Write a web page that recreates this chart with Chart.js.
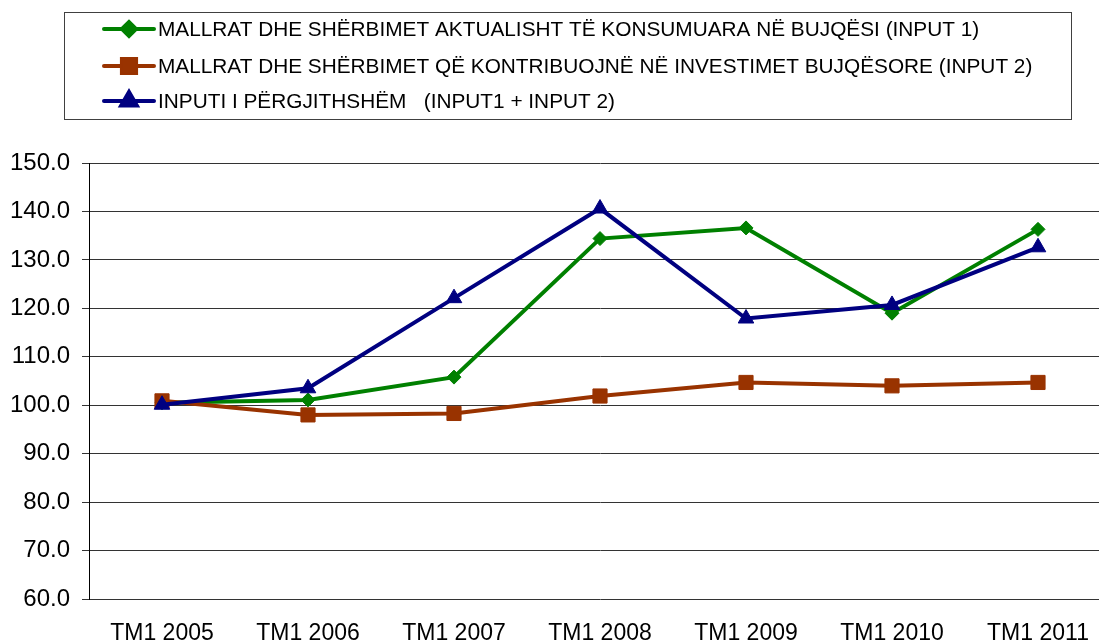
<!DOCTYPE html>
<html>
<head>
<meta charset="utf-8">
<script src="https://cdn.jsdelivr.net/npm/chart.js@4/dist/chart.umd.min.js"></script>
<style>
  html, body { margin: 0; padding: 0; background: #fff; overflow: hidden; }
  #wrap { width: 1099px; height: 641px; overflow: hidden; }
  #grafico { display: block; }
</style>
</head>
<body>
<div id="wrap"><canvas id="grafico" width="1122" height="641"></canvas></div>
<script>
// Dados
const categorias = ['TM1 2005', 'TM1 2006', 'TM1 2007', 'TM1 2008', 'TM1 2009', 'TM1 2010', 'TM1 2011'];
const input1 = [100.5, 101.1, 105.8, 134.4, 136.6, 119.0, 136.3];
const input2 = [100.9, 98.0, 98.3, 101.9, 104.7, 104.0, 104.7];
const inputTotal = [100.1, 103.5, 122.1, 140.6, 117.9, 120.7, 132.6];

const nomes = [
  'MALLRAT DHE SHËRBIMET AKTUALISHT TË KONSUMUARA NË BUJQËSI (INPUT 1)',
  'MALLRAT DHE SHËRBIMET QË KONTRIBUOJNË NË INVESTIMET BUJQËSORE (INPUT 2)',
  'INPUTI I PËRGJITHSHËM   (INPUT1 + INPUT 2)',
];

const FONTE = '"Liberation Sans", Arial, sans-serif';

// legenda desenhada à mão: caixa com linha + marcador
const legendaCaixa = {
  id: 'legendaCaixa',
  afterDraw(chart) {
    const ctx = chart.ctx;
    ctx.save();
    ctx.strokeStyle = '#404040';
    ctx.lineWidth = 1;
    ctx.strokeRect(64.5, 12.5, 1007, 107);

    const linhas = [29, 66, 101];
    chart.data.datasets.forEach((ds, i) => {
      const y = linhas[i];
      ctx.strokeStyle = ds.borderColor;
      ctx.lineWidth = 4;
      ctx.lineCap = 'round';
      ctx.beginPath();
      ctx.moveTo(104, y);
      ctx.lineTo(154, y);
      ctx.stroke();
      Chart.helpers.drawPoint(ctx, {
        pointStyle: ds.pointStyle,
        radius: ds.pointRadius,
        rotation: 0,
        borderWidth: 1,
      }, 129, y);
      ctx.fillStyle = ds.pointBackgroundColor;
      ctx.strokeStyle = ds.borderColor;
      ctx.lineWidth = 1;
      ctx.fill();
      ctx.stroke();

      ctx.fillStyle = '#000';
      ctx.font = '20.8px ' + FONTE;
      ctx.textBaseline = 'middle';
      ctx.textAlign = 'left';
      ctx.fillText(ds.label, 158, y + 1);
    });
    ctx.restore();
  },
};

function serie(label, data, cor, estilo, raio, ordem) {
  return {
    label, data,
    order: ordem,
    borderColor: cor,
    backgroundColor: cor,
    pointBackgroundColor: cor,
    pointBorderColor: cor,
    pointStyle: estilo,
    pointRadius: raio,
    pointBorderWidth: 1,
    borderWidth: 4,
    tension: 0,
  };
}

new Chart(document.getElementById('grafico'), {
  type: 'line',
  data: {
    labels: categorias,
    datasets: [
      serie(nomes[0], input1, '#008000', 'rectRot', 7, 3),
      serie(nomes[1], input2, '#993300', 'rect', 10, 2),
      serie(nomes[2], inputTotal, '#000080', 'triangle', 9, 1),
    ],
  },
  options: {
    responsive: false,
    animation: false,
    layout: { padding: { top: 163, left: 0, right: 0, bottom: 0 } },
    plugins: { legend: { display: false }, tooltip: { enabled: false } },
    scales: {
      x: {
        offset: true,
        grid: { display: false, drawTicks: false },
        border: { display: false },
        ticks: { color: '#000', font: { family: FONTE, size: 23 }, padding: 21, maxRotation: 0 },
        afterFit: (s) => { s.height = 42; s.paddingLeft = 0; s.paddingRight = 0; },
      },
      y: {
        min: 60, max: 150,
        grid: { color: '#333', lineWidth: 1, tickLength: 7 },
        border: { display: true, color: '#000', width: 1 },
        ticks: {
          stepSize: 10,
          color: '#000',
          padding: 12,
          font: { family: FONTE, size: 24 },
          callback: (v) => v.toFixed(1),
        },
        afterFit: (s) => { s.width = 89; s.paddingTop = 0; s.paddingBottom = 0; },
      },
    },
  },
  plugins: [legendaCaixa],
});
</script>
</body>
</html>
